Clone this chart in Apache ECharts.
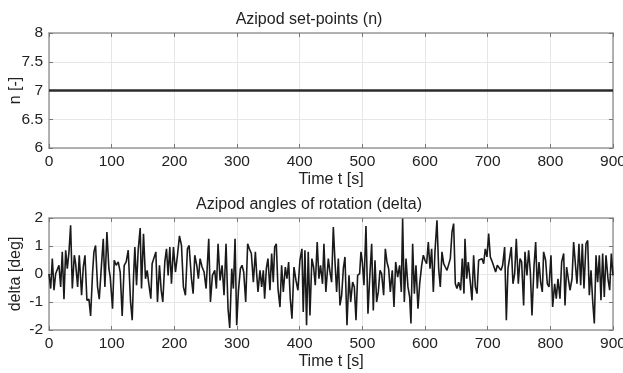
<!DOCTYPE html>
<html>
<head>
<meta charset="utf-8">
<script src="https://cdn.jsdelivr.net/npm/echarts@6/dist/echarts.min.js"></script>
<style>
html,body{margin:0;padding:0;background:#fff;}
#chart{width:623px;height:373px;}
</style>
</head>
<body>
<div id="chart"></div>
<script>
// Top panel: set-point
const setT = [0, 900];
const setN = [7, 7];

// Bottom panel: azipod angle
const deltaT = [0,2.7,5.3,8.0,10.6,13.3,15.9,18.6,21.2,23.9,26.6,29.2,31.9,34.5,37.2,40.4,42.5,45.7,48.3,52.0,54.7,57.4,60.5,63.7,66.4,69.6,71.7,74.3,77.5,80.2,83.9,86.6,89.2,92.4,95.6,97.7,101.4,104.1,107.3,110.5,113.6,116.8,120.0,123.2,126.4,130.1,132.8,134.9,137.0,139.7,142.3,145.5,147.6,150.8,154.0,156.7,159.3,162.5,164.6,167.3,170.5,173.1,176.3,179.0,181.6,184.8,187.5,190.1,192.8,195.4,198.6,201.8,205.0,208.2,211.4,214.5,217.7,220.9,223.6,227.3,230.0,232.6,235.8,238.4,241.1,244.3,247.5,250.7,254.9,257.6,260.8,264.5,267.1,269.8,273.0,276.2,279.3,282.5,285.7,288.4,291.6,294.2,296.9,299.5,302.2,305.4,308.0,310.7,313.9,317.0,319.7,322.9,326.1,329.3,331.4,333.5,336.7,339.4,342.0,344.1,346.8,349.4,352.6,355.3,357.9,360.1,362.7,365.4,368.6,371.2,373.9,377.1,379.7,382.4,385.0,387.7,390.9,394.1,397.2,400.4,403.6,405.7,408.4,411.0,413.7,416.4,419.5,422.2,424.9,428.0,430.7,433.3,436.5,438.7,441.8,
445.7,448.4,451.0,453.7,456.4,459.0,461.7,464.3,467.0,469.7,472.3,475.5,478.7,481.4,484.5,487.2,489.9,492.5,495.7,497.8,500.0,502.6,505.8,509.0,511.7,514.9,517.5,520.2,522.8,525.5,528.2,530.8,534.0,536.7,539.3,542.0,544.7,547.8,550.5,553.2,556.4,559.5,562.2,564.3,567.0,569.7,572.8,575.5,577.6,580.3,583.0,585.6,588.8,591.5,594.7,597.3,600.0,602.6,605.3,608.0,610.6,613.3,615.9,619.1,621.8,624.4,627.1,629.8,632.4,635.1,637.7,640.4,643.1,645.7,648.4,651.0,653.7,656.9,659.5,662.2,663.8,666.5,669.1,672.3,675.0,677.6,680.3,683.0,685.6,688.3,690.9,693.6,696.2,698.9,701.6,704.2,707.4,710.1,712.7,715.4,718.1,721.3,723.9,727.1,729.8,732.4,735.1,737.7,740.4,743.1,745.7,748.9,751.6,754.2,757.4,759.5,762.7,765.4,768.1,770.7,773.9,776.6,779.2,781.9,784.5,787.2,789.3,792.5,795.2,797.9,801.0,803.7,806.9,809.5,812.2,815.4,818.1,821.3,823.4,826.0,828.7,831.4,834.6,837.2,839.9,842.5,845.7,848.4,851.0,853.7,856.9,859.6,862.2,864.9,867.5,870.2,872.9,875.5,878.2,880.8,883.5,886.1,888.8,892.0,894.7,897.3,900.0];
const deltaV = [0,-0.52,0.55,-0.58,0.01,0.07,0.31,-0.46,0.79,-0.90,0.85,0.19,0.79,1.74,-0.52,0.67,0.37,-0.46,0.67,-0.76,0.25,0.67,-0.94,-0.90,-1.50,0.07,0.79,1.02,-0.46,-0.90,0.37,1.26,-0.46,1.50,0.19,-0.11,-1.24,0.49,0.31,0.43,0.07,-1.50,0.31,0.43,0.85,-0.98,-1.65,-0.11,0.96,-0.40,0.85,1.64,-0.52,1.44,-0.17,0.13,-0.35,-0.88,0.37,0.31,0.79,-1.00,0.31,-0.58,-1.00,0.43,0.90,-0.05,0.96,-0.35,0.96,0.07,0.67,1.36,1.02,-0.46,-0.76,0.90,1.02,-0.17,-0.70,0.67,0.31,-0.17,0.55,0.25,0.07,-0.52,1.26,-1.00,-0.05,0.13,-0.52,1.08,-0.23,0.31,-0.76,1.08,-1.24,-1.93,0.19,-0.52,1.26,-1.83,-0.64,0.19,0.31,0.07,-1.00,1.08,0.90,0.73,-0.29,0.79,0.01,-0.64,0.13,-0.46,0.13,-0.88,0.19,0.55,-0.58,0.73,-0.29,0.96,1.08,-0.52,-1.18,0.31,-0.64,0.25,-0.17,0.43,-0.88,-1.60,0.25,-0.23,-0.58,0.49,0.90,-1.36,0.85,-1.83,0.79,-1.48,0.55,0.25,-0.40,1.14,-0.17,0.31,-0.35,1.08,-0.64,
0.55,0.07,-0.29,1.68,0.43,-0.64,0.55,-1.12,-0.76,0.19,0.61,-1.83,-0.05,-1.00,-0.29,-0.46,-1.65,-0.05,0.01,0.79,0.43,-0.40,1.71,-1.42,-0.17,1.08,-1.30,0.49,-1.00,-0.64,0.13,0.01,-0.76,0.90,0.43,0.19,-0.64,0.13,-1.18,0.43,-0.11,0.31,-0.64,1.98,-1.00,0.55,-0.46,-0.82,-1.77,1.08,-0.70,0.31,-1.24,-0.35,0.31,0.67,0.49,0.37,1.14,0.19,0.90,-0.64,0.79,1.92,0.19,-0.46,0.79,0.37,0.25,0.13,0.07,0.55,1.50,1.80,-0.35,-0.52,-0.29,-0.58,0.55,-0.70,1.26,-0.17,0.43,-0.29,-0.94,0.67,-0.46,-0.70,0.49,0.49,0.55,0.37,0.90,0.61,1.44,0.61,0.43,0.25,0.07,0.31,0.25,0.13,0.31,0.96,-1.65,0.19,0.13,0.96,-0.35,0.01,1.26,-0.35,0.55,0.43,-1.12,0.79,-0.05,0.85,0.07,-1.48,0.25,1.14,-0.52,0.43,-0.29,-0.64,0.79,0.49,-0.35,-0.46,0.67,-1.18,-0.35,-0.88,-0.17,-0.88,0.43,0.73,-1.12,0.25,-0.17,-0.58,-0.17,1.14,1.14,-0.35,1.08,-0.40,1.08,-0.52,1.08,1.20,-0.76,0.13,-0.94,-1.77,0.67,-0.29,0.67,-0.94,0.73,-0.82,0.67,-0.17,-0.58,0.73,-0.05];

const xTicks = [0,100,200,300,400,500,600,700,800,900];

const FONT = 'Liberation Sans, Arial, sans-serif';
const axisGray = '#9a9a9a';
const gridGray = '#e6e6e6';
const txt = '#222222';

function xAx(gridIndex) {
  return {
    type: 'value', gridIndex: gridIndex, min: 0, max: 900, interval: 100,
    position: 'bottom',
    name: 'Time t [s]', nameLocation: 'middle', nameGap: 24, nameMoveOverlap: false,
    nameTextStyle: {color: txt, fontSize: 16, fontFamily: FONT},
    axisLine: {show: true, onZero: false, lineStyle: {color: axisGray, width: 1.5}},
    axisTick: {show: true, inside: true, length: 4, lineStyle: {color: '#777'}},
    axisLabel: {show: true, color: txt, fontSize: 15.5, fontFamily: FONT, margin: 6,
      formatter: function(v){ return xTicks.indexOf(v) >= 0 ? String(v) : ''; }},
    splitLine: {show: true, lineStyle: {color: gridGray, width: 1}}
  };
}
function xTop(gridIndex) {
  return {
    type: 'value', gridIndex: gridIndex, min: 0, max: 900, interval: 100, position: 'top',
    axisLine: {show: true, onZero: false, lineStyle: {color: axisGray, width: 1.5}},
    axisTick: {show: true, inside: true, length: 4, lineStyle: {color: '#777'}},
    axisLabel: {show: false}, splitLine: {show: false}
  };
}
function yAx(gridIndex, min, max, interval, name) {
  return {
    type: 'value', gridIndex: gridIndex, min: min, max: max, interval: interval,
    position: 'left',
    name: name, nameLocation: 'middle', nameGap: 25, nameMoveOverlap: false,
    nameTextStyle: {color: txt, fontSize: 16, fontFamily: FONT},
    axisLine: {show: true, onZero: false, lineStyle: {color: axisGray, width: 1.5}},
    axisTick: {show: true, inside: true, length: 4, lineStyle: {color: '#777'}},
    axisLabel: {show: true, color: txt, fontSize: 15.5, fontFamily: FONT, margin: 6},
    splitLine: {show: true, lineStyle: {color: gridGray, width: 1}}
  };
}
function yRight(gridIndex, min, max, interval) {
  return {
    type: 'value', gridIndex: gridIndex, min: min, max: max, interval: interval, position: 'right',
    axisLine: {show: true, onZero: false, lineStyle: {color: axisGray, width: 1.5}},
    axisTick: {show: true, inside: true, length: 4, lineStyle: {color: '#777'}},
    axisLabel: {show: false}, splitLine: {show: false}
  };
}

const chart = echarts.init(document.getElementById('chart'), null, {renderer: 'canvas'});
chart.setOption({
  animation: false,
  backgroundColor: '#ffffff',
  title: [
    {text: 'Azipod set-points (n)', left: 304, top: 7, textAlign: 'center',
     textStyle: {color: txt, fontSize: 16, fontWeight: 'normal', fontFamily: FONT}},
    {text: 'Azipod angles of rotation (delta)', left: 304, top: 192, textAlign: 'center',
     textStyle: {color: txt, fontSize: 16, fontWeight: 'normal', fontFamily: FONT}}
  ],
  grid: [
    {left: 49, right: 10, top: 33, height: 115, outerBoundsMode: 'none', containLabel: false},
    {left: 49, right: 10, top: 218, height: 112, outerBoundsMode: 'none', containLabel: false}
  ],
  xAxis: [xAx(0), xTop(0), xAx(1), xTop(1)],
  yAxis: [yAx(0, 6, 8, 0.5, 'n [-]'), yRight(0, 6, 8, 0.5), yAx(1, -2, 2, 1, 'delta [deg]'), yRight(1, -2, 2, 1)],
  series: [
    {type: 'line', xAxisIndex: 0, yAxisIndex: 0, showSymbol: false,
     data: setT.map(function(t, i){ return [t, setN[i]]; }),
     lineStyle: {color: '#2b2b2b', width: 2.4}},
    {type: 'line', xAxisIndex: 2, yAxisIndex: 2, showSymbol: false,
     data: deltaT.map(function(t, i){ return [t, deltaV[i]]; }),
     lineStyle: {color: '#1a1a1a', width: 1.6}}
  ]
});
</script>
</body>
</html>
